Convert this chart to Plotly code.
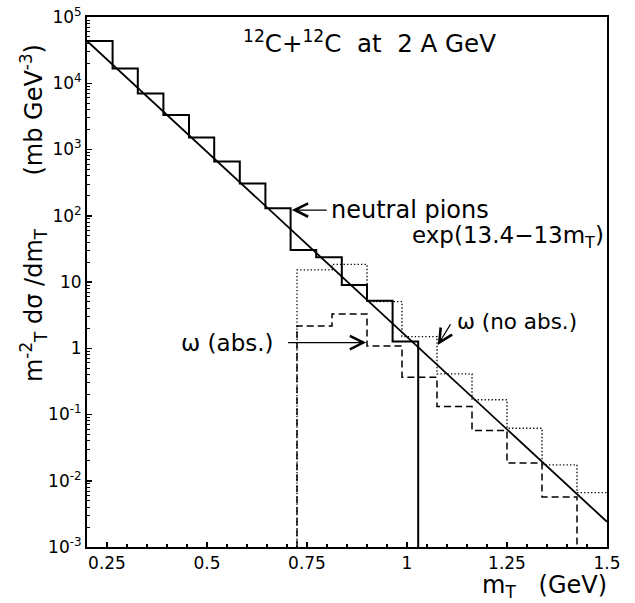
import plotly.graph_objects as go

# ---------------- data ----------------
pion_edges = [0.2, 0.264, 0.327, 0.391, 0.455, 0.518, 0.582, 0.646, 0.709,
              0.773, 0.837, 0.900, 0.964, 1.028]
pion_vals = [43500, 16700, 7000, 3330, 1520, 660, 308, 130, 30.3, 23.6, 9.0, 5.2, 1.26]

omega_edges = [0.725, 0.8125, 0.9, 0.9875, 1.075, 1.1625, 1.25, 1.3375, 1.425, 1.5]
omega_noabs_vals = [15.2, 18.5, 5.05, 1.5, 0.41, 0.167, 0.062, 0.0174, 0.0066]
omega_abs_vals = [2.17, 3.3, 1.08, 0.366, 0.132, 0.0573, 0.0185, 0.0057]

fit_x = [0.2, 1.5]
fit_y = [43500, 0.0024]

y_tick_vals = [1e-3, 1e-2, 1e-1, 1, 10, 100, 1e3, 1e4, 1e5]
y_tick_text = ["10<sup>-3</sup>", "10<sup>-2</sup>", "10<sup>-1</sup>", "1", "10",
               "10<sup>2</sup>", "10<sup>3</sup>", "10<sup>4</sup>", "10<sup>5</sup>"]
x_tick_vals = [0.25, 0.5, 0.75, 1.0, 1.25, 1.5]
x_tick_text = ["0.25", "0.5", "0.75", "1", "1.25", "1.5"]

FLOOR = 1e-4  # below the axis range -> vertical drop to the frame


def hist_xy(edges, vals, start_floor, end_floor):
    n = len(vals)
    xs, ys = [], []
    if start_floor:
        xs.append(edges[0]); ys.append(FLOOR)
    for i in range(n):
        xs.append(edges[i]); ys.append(vals[i])
    xs.append(edges[n]); ys.append(vals[-1])
    if end_floor:
        xs.append(edges[n]); ys.append(FLOOR)
    return xs, ys


FONT = "DejaVu Sans"
fig = go.Figure()

px_, py_ = hist_xy(pion_edges, pion_vals, False, True)
fig.add_trace(go.Scatter(x=px_, y=py_, mode="lines", line_shape="hv",
                         line=dict(color="black", width=2)))

dx, dy = hist_xy(omega_edges, omega_noabs_vals, True, False)
fig.add_trace(go.Scatter(x=dx, y=dy, mode="lines", line_shape="hv",
                         line=dict(color="black", width=1.3, dash="1.3px,2.2px")))

ax_, ay_ = hist_xy(omega_edges[:len(omega_abs_vals) + 1], omega_abs_vals, True, True)
fig.add_trace(go.Scatter(x=ax_, y=ay_, mode="lines", line_shape="hv",
                         line=dict(color="black", width=1.5, dash="7px,4px")))

fig.add_trace(go.Scatter(x=fit_x, y=fit_y, mode="lines",
                         line=dict(color="black", width=1.8)))

# minor tick positions for the log axis
minor_y = [m * 10 ** e for e in range(-3, 5) for m in range(2, 10)]

fig.update_layout(
    width=635, height=603,
    margin=dict(l=87, r=28, t=17, b=56),
    plot_bgcolor="white", paper_bgcolor="white",
    showlegend=False, hovermode=False,
    font=dict(family=FONT, color="black", size=17),
    xaxis=dict(range=[0.2, 1.5], showgrid=False, zeroline=False, automargin=False,
               showline=True, linecolor="black", linewidth=2, mirror=True,
               ticks="inside", ticklen=5, tickwidth=1.5, tickcolor="black",
               tickmode="array", tickvals=x_tick_vals, ticktext=x_tick_text,
               tickfont=dict(size=17, family=FONT), ticklabeloverflow="allow",
               minor=dict(ticks="inside", ticklen=3, tickwidth=1.2,
                          tickcolor="black", dtick=0.05, tick0=0.2, showgrid=False)),
    yaxis=dict(type="log", range=[-3, 5], showgrid=False, zeroline=False, automargin=False,
               showline=True, linecolor="black", linewidth=2, mirror=True,
               ticks="inside", ticklen=5, tickwidth=1.5, tickcolor="black",
               tickmode="array", tickvals=y_tick_vals, ticktext=y_tick_text,
               tickfont=dict(size=17, family=FONT), ticklabeloverflow="allow",
               minor=dict(ticks="inside", ticklen=3, tickwidth=1,
                          tickcolor="black", tickmode="array", tickvals=minor_y,
                          showgrid=False)),
)

NB = "\u00a0"
ann = []
ann.append(dict(xref="paper", yref="paper", x=0.297, y=0.952,
                text="<sup>12</sup>C+<sup>12</sup>C" + NB * 2 + "at" + NB * 2 + "2 A GeV",
                showarrow=False, font=dict(size=24.5), xanchor="left", yanchor="middle"))
ann.append(dict(xref="paper", yref="paper", x=-0.104, y=0.63, textangle=-90,
                text="m<sup>-2</sup><sub>T</sub> dσ /dm<sub>T</sub>" + NB * 7 + "(mb GeV<sup>-3</sup>)",
                showarrow=False, font=dict(size=24), xanchor="center", yanchor="middle"))
ann.append(dict(xref="paper", yref="paper", x=0.88, y=-0.075,
                text="m<sub>T</sub>" + NB * 3 + "(GeV)",
                showarrow=False, font=dict(size=24), xanchor="center", yanchor="middle"))
ARW = dict(showarrow=True, arrowhead=5, arrowsize=2.2, arrowwidth=1.2,
           arrowcolor="black", text="")
# neutral pions
ann.append(dict(xref="x", yref="y", axref="x", ayref="y",
                x=0.712, y=2.086, ax=0.803, ay=2.086, **ARW))
ann.append(dict(xref="x", yref="y", x=0.806, y=2.086, text="neutral pions",
                showarrow=False, xanchor="left", yanchor="middle", font=dict(size=24)))
ann.append(dict(xref="x", yref="y", x=1.007, y=1.68, text="exp(13.4−13m<sub>T</sub>)",
                showarrow=False, xanchor="left", yanchor="middle", font=dict(size=23)))
# omega abs
ann.append(dict(xref="x", yref="y", axref="x", ayref="y",
                x=0.898, y=0.085, ax=0.699, ay=0.085, **ARW))
ann.append(dict(xref="x", yref="y", x=0.672, y=0.085, text="ω (abs.)",
                showarrow=False, xanchor="right", yanchor="middle", font=dict(size=23)))
# omega no abs
ann.append(dict(xref="x", yref="y", axref="x", ayref="y",
                x=1.077, y=0.05, ax=1.111, ay=0.382, **ARW))
ann.append(dict(xref="x", yref="y", x=1.12, y=0.398, text="ω (no abs.)",
                showarrow=False, xanchor="left", yanchor="middle", font=dict(size=21.5)))
fig.update_layout(annotations=ann)

fig.write_html("out.html", config={"displayModeBar": False, "staticPlot": True},
               post_script="document.body.style.margin='0';")
